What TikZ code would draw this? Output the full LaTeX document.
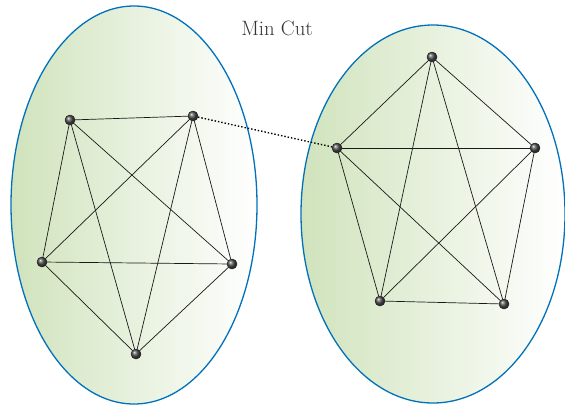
\documentclass[tikz,border=0pt]{standalone}
\begin{document}
\begin{tikzpicture}[x=1pt,y=-1pt,
  blob/.style={draw=ringblue,line width=1.3pt,left color=leafgreen,right color=white,shading angle=90},
  vtx/.style={circle,inner sep=0pt,minimum size=10pt,ball color=gray!60!black,draw=black!80,line width=0.3pt},
  edge/.style={line width=0.7pt,black!90}]
\definecolor{ringblue}{RGB}{0,114,188}
\definecolor{leafgreen}{RGB}{208,227,188}
\useasboundingbox (0,0) rectangle (565,405);
\path[blob] (134,205) ellipse [x radius=123, y radius=199];
\path[blob] (433,214) ellipse [x radius=132, y radius=189];
\node[font=\huge,text=black!80] (title) at (277,28) {Min Cut};
\node[vtx] (A) at (70,120) {};
\node[vtx] (B) at (193,116) {};
\node[vtx] (C) at (42,262) {};
\node[vtx] (D) at (232,264) {};
\node[vtx] (E) at (136,354) {};
\node[vtx] (F) at (432,57) {};
\node[vtx] (G) at (337,148) {};
\node[vtx] (H) at (535,148) {};
\node[vtx] (I) at (380,301) {};
\node[vtx] (J) at (504,304) {};
\foreach \u/\v in {A/B,A/C,A/D,A/E,B/C,B/D,B/E,C/D,C/E,D/E,F/G,F/H,F/I,F/J,G/H,G/I,G/J,H/I,H/J,I/J}
  \draw[edge] (\u) -- (\v);
\draw[line width=1.4pt,dotted] (B) -- (G);
\foreach \n in {A,B,C,D,E,F,G,H,I,J}
  \node[vtx] at (\n) {};
\end{tikzpicture}
\end{document}
